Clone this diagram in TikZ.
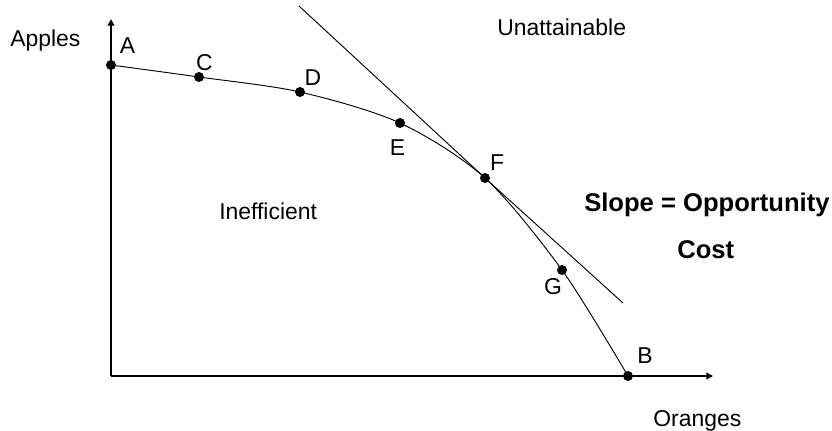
\documentclass[tikz,border=0pt]{standalone}
\usepackage{fontspec}
\setmainfont{Liberation Sans}
\usetikzlibrary{arrows.meta}

\begin{document}
\begin{tikzpicture}[x=0.75pt, y=-0.75pt,
    axis/.style={-{Triangle[length=5pt, width=5pt]}, line width=1.6pt},
    dot/.style={circle, fill, inner sep=0pt, minimum size=7.5pt},
    lbl/.style={inner sep=0pt, anchor=base, font=\fontsize{17.2}{20}\selectfont},
    note/.style={inner sep=0pt, anchor=base west, font=\fontsize{19.2}{22}\selectfont\bfseries}
  ]
    \useasboundingbox (0,0) rectangle (832,430);

    % axes
    \coordinate (origin) at (111,376);
    \coordinate (ytip) at (111,19);
    \coordinate (xtip) at (713,376);
    \draw[axis] (origin) -- (ytip);
    \draw[axis] (origin) -- (xtip);

    % points on the frontier
    \node[dot] (A) at (111,65) {};
    \node[dot] (C) at (199,77) {};
    \node[dot] (D) at (300,92) {};
    \node[dot] (E) at (400,123) {};
    \node[dot] (F) at (485,178) {};
    \node[dot] (G) at (562,270) {};
    \node[dot] (B) at (628,376) {};
    \draw[line width=0.7pt] plot[smooth, tension=0.5]
      coordinates {(A.center) (C.center) (D.center) (E.center) (F.center) (G.center) (B.center)};

    % tangent at F
    \coordinate (tanup) at (299,6);
    \coordinate (tandown) at (623,303);
    \draw[line width=0.7pt] (tanup) -- (F.center) -- (tandown);

    \node[lbl] (labA) at (127.5,53) {A};
    \node[lbl] (labC) at (204.5,70) {C};
    \node[lbl] (labD) at (313,85) {D};
    \node[lbl] (labE) at (397.5,155) {E};
    \node[lbl] (labF) at (497,170) {F};
    \node[lbl] (labG) at (553,294) {G};
    \node[lbl] (labB) at (645,363) {B};

    \node[lbl, anchor=base west] (apples) at (10,46) {Apples};
    \node[lbl, anchor=base west] (oranges) at (653,426) {Oranges};
    \node[lbl, anchor=base west] (unatt) at (497,35) {Unattainable};
    \node[lbl, anchor=base west] (ineff) at (219,219) {Inefficient};
    \node[note] (slope) at (584,211) {Slope = Opportunity};
    \node[note] (cost) at (677,258) {Cost};
\end{tikzpicture}
\end{document}
